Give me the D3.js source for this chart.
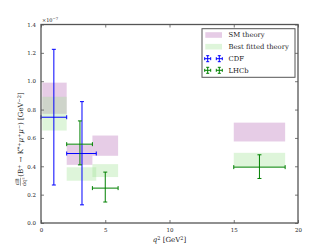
<!DOCTYPE html>
<head>
<meta charset="utf-8">
<style>
body, html { margin: 0; padding: 0; background: #fff; }
text { font-family: "DejaVu Serif", "Liberation Serif", serif; fill: #222; }
.spine { fill: none; stroke: #555; stroke-width: 1.3; }
.tick line { stroke: #555; stroke-width: 0.8; }
</style>
<script src="https://d3js.org/d3.v7.min.js"></script>
</head>
<body>
<div id="chart"></div>
<script>

// values in units of 1e-7 GeV^-2
var smBinLo  = [0.1, 2.0, 4.0, 15.0],
    smBinHi  = [2.0, 4.0, 6.0, 19.0],
    smLow    = [0.770, 0.410, 0.474, 0.575],
    smHigh   = [0.990, 0.550, 0.617, 0.708];

var fitBinLo = [0.1, 2.0, 4.0, 15.0],
    fitBinHi = [2.0, 4.3, 6.0, 19.0],
    fitLow   = [0.652, 0.298, 0.324, 0.394],
    fitHigh  = [0.890, 0.393, 0.415, 0.495];

var cdfX   = [1.0, 3.19],
    cdfXlo = [0.0, 2.0],
    cdfXhi = [2.0, 4.3],
    cdfY   = [0.746, 0.490],
    cdfYlo = [0.268, 0.128],
    cdfYhi = [1.225, 0.856];

var lhcbX   = [3.03, 5.0, 17.0],
    lhcbXlo = [2.0, 4.0, 15.0],
    lhcbXhi = [4.0, 6.0, 19.0],
    lhcbY   = [0.556, 0.246, 0.394],
    lhcbYlo = [0.410, 0.148, 0.314],
    lhcbYhi = [0.720, 0.359, 0.481];

var xTicks = [0, 5, 10, 15, 20],
    yTicks = [0, 0.2, 0.4, 0.6, 0.8, 1.0, 1.2, 1.4];

var legendLabels = ["SM theory", "Best fitted theory", "CDF", "LHCb"];

var smFill = "#800080", smOp = 0.2,
    fitFill = "#a0e196", fitOp = 0.35;

//--------------------------------------
var width = 332, height = 249;
var margin = {left: 41, top: 24.5, right: 34, bottom: 26};
var w = width - margin.left - margin.right,
    h = height - margin.top - margin.bottom;

var x = d3.scaleLinear().domain([0, 20]).range([0, w]);
var y = d3.scaleLinear().domain([0, 1.4]).range([h, 0]);

var svg = d3.select("#chart").append("svg")
    .attr("width", width)
    .attr("height", height);

var g = svg.append("g")
    .attr("transform", "translate(" + margin.left + "," + margin.top + ")");

//--------------------------------------
function boxes(lo, hi, low, high, fill, op) {
  g.selectAll(null).data(lo).enter().append("rect")
    .attr("x", function(d, i) { return x(d); })
    .attr("width", function(d, i) { return x(hi[i]) - x(d); })
    .attr("y", function(d, i) { return y(high[i]); })
    .attr("height", function(d, i) { return y(low[i]) - y(high[i]); })
    .attr("fill", fill)
    .attr("fill-opacity", op);
}

boxes(smBinLo, smBinHi, smLow, smHigh, smFill, smOp);
boxes(fitBinLo, fitBinHi, fitLow, fitHigh, fitFill, fitOp);

//--------------------------------------
function errorbars(xs, xlo, xhi, ys, ylo, yhi, col) {
  var cap = 2;
  var grp = g.append("g").attr("stroke", col).attr("stroke-width", 1);
  xs.forEach(function(d, i) {
    grp.append("line")
      .attr("x1", x(xlo[i])).attr("x2", x(xhi[i]))
      .attr("y1", y(ys[i])).attr("y2", y(ys[i]));
    grp.append("line")
      .attr("x1", x(d)).attr("x2", x(d))
      .attr("y1", y(ylo[i])).attr("y2", y(yhi[i]));
    [xlo[i], xhi[i]].forEach(function(v) {
      grp.append("line")
        .attr("x1", x(v)).attr("x2", x(v))
        .attr("y1", y(ys[i]) - cap).attr("y2", y(ys[i]) + cap);
    });
    [ylo[i], yhi[i]].forEach(function(v) {
      grp.append("line")
        .attr("x1", x(d) - cap).attr("x2", x(d) + cap)
        .attr("y1", y(v)).attr("y2", y(v));
    });
  });
}

errorbars(cdfX, cdfXlo, cdfXhi, cdfY, cdfYlo, cdfYhi, "#0000ff");
errorbars(lhcbX, lhcbXlo, lhcbXhi, lhcbY, lhcbYlo, lhcbYhi, "#008000");

//--------------------------------------
// axes, matplotlib classic look: ticks inward on all four sides
function styleAxis(sel) {
  sel.select(".domain").remove();
  sel.selectAll("text").style("font-size", "5.5px").attr("fill", "#333");
}

g.append("g")
  .attr("transform", "translate(0," + h + ")")
  .call(d3.axisBottom(x).tickValues(xTicks).tickSize(-3).tickPadding(5)
        .tickFormat(d3.format("d")))
  .call(styleAxis);

g.append("g")
  .call(d3.axisTop(x).tickValues(xTicks).tickSize(-3).tickFormat(""))
  .call(styleAxis);

g.append("g")
  .call(d3.axisLeft(y).tickValues(yTicks).tickSize(-3).tickPadding(5)
        .tickFormat(d3.format(".1f")))
  .call(styleAxis);

g.append("g")
  .attr("transform", "translate(" + w + ",0)")
  .call(d3.axisRight(y).tickValues(yTicks).tickSize(-3).tickFormat(""))
  .call(styleAxis);

g.append("rect").attr("class", "spine")
  .attr("width", w).attr("height", h);

// offset text
g.append("text")
  .attr("x", 1).attr("y", -3)
  .style("font-size", "5px")
  .text("\u00d710")
  .append("tspan").attr("dy", -2).style("font-size", "3.8px").text("\u22127");

// axis labels
svg.append("text")
  .attr("x", margin.left + w / 2).attr("y", 242)
  .attr("text-anchor", "middle")
  .style("font-size", "7px")
  .text("q")
  .call(function(t) {
    t.style("font-style", "italic");
    t.append("tspan").attr("dy", -2.5).style("font-size", "5px").style("font-style", "normal").text("2");
    t.append("tspan").attr("dy", 2.5).style("font-style", "normal").text(" [GeV");
    t.append("tspan").attr("dy", -2.5).style("font-size", "5px").style("font-style", "normal").text("2");
    t.append("tspan").attr("dy", 2.5).style("font-style", "normal").text("]");
  });

var yl = svg.append("g")
  .attr("transform", "translate(21," + (margin.top + h / 2) + ") rotate(-90)");

var frac = yl.append("g").attr("transform", "translate(-58,0)");
frac.append("text").attr("x", 0).attr("y", -2).attr("text-anchor", "middle")
  .style("font-size", "5px").text("dB");
frac.append("line").attr("x1", -4).attr("x2", 4).attr("y1", -0.5).attr("y2", -0.5)
  .attr("stroke", "#222").attr("stroke-width", 0.4);
frac.append("text").attr("x", 0).attr("y", 4.5).attr("text-anchor", "middle")
  .style("font-size", "5px").text("dq\u00b2");

var lab = yl.append("text").attr("x", -53).attr("y", 2.3)
  .style("font-size", "7px");
lab.append("tspan").text("(B");
lab.append("tspan").attr("dy", -2.5).style("font-size", "5px").text("+");
lab.append("tspan").attr("dy", 2.5).text(" \u2192 K");
lab.append("tspan").attr("dy", -2.5).style("font-size", "5px").text("*+");
lab.append("tspan").attr("dy", 2.5).style("font-style", "italic").text("\u03bc");
lab.append("tspan").attr("dy", -2.5).style("font-size", "5px").text("+");
lab.append("tspan").attr("dy", 2.5).style("font-style", "italic").text("\u03bc");
lab.append("tspan").attr("dy", -2.5).style("font-size", "5px").text("\u2212");
lab.append("tspan").attr("dy", 2.5).text(") [GeV");
lab.append("tspan").attr("dy", -2.5).style("font-size", "5px").text("\u22122");
lab.append("tspan").attr("dy", 2.5).text("]");

//--------------------------------------
// legend
var lg = svg.append("g").attr("transform", "translate(202,28.7)");
lg.append("rect").attr("width", 93).attr("height", 48.6)
  .attr("fill", "#fff").attr("stroke", "#555").attr("stroke-width", 1);

var rowY = [6.3, 18, 30, 41.6];

lg.append("rect").attr("x", 3.3).attr("y", rowY[0] - 2.8).attr("width", 16.7).attr("height", 5.6)
  .attr("fill", smFill).attr("fill-opacity", smOp);
lg.append("rect").attr("x", 3.3).attr("y", rowY[1] - 2.8).attr("width", 16.7).attr("height", 5.6)
  .attr("fill", fitFill).attr("fill-opacity", fitOp);

[["#0000ff", rowY[2]], ["#008000", rowY[3]]].forEach(function(c) {
  [5.7, 17.3].forEach(function(cx) {
    var m = lg.append("g").attr("stroke", c[0]).attr("stroke-width", 1);
    m.append("line").attr("x1", cx - 3).attr("x2", cx + 3).attr("y1", c[1]).attr("y2", c[1]);
    m.append("line").attr("x1", cx).attr("x2", cx).attr("y1", c[1] - 3).attr("y2", c[1] + 3);
    m.append("line").attr("x1", cx - 3).attr("x2", cx - 3).attr("y1", c[1] - 1.5).attr("y2", c[1] + 1.5);
    m.append("line").attr("x1", cx + 3).attr("x2", cx + 3).attr("y1", c[1] - 1.5).attr("y2", c[1] + 1.5);
    m.append("line").attr("x1", cx - 1.5).attr("x2", cx + 1.5).attr("y1", c[1] - 3).attr("y2", c[1] - 3);
    m.append("line").attr("x1", cx - 1.5).attr("x2", cx + 1.5).attr("y1", c[1] + 3).attr("y2", c[1] + 3);
  });
});

lg.selectAll("text.lab").data(legendLabels).enter().append("text")
  .attr("class", "lab")
  .attr("x", 26.5).attr("y", function(d, i) { return rowY[i] + 2.4; })
  .style("font-size", "6.8px")
  .text(function(d) { return d; });

</script>
</body>
